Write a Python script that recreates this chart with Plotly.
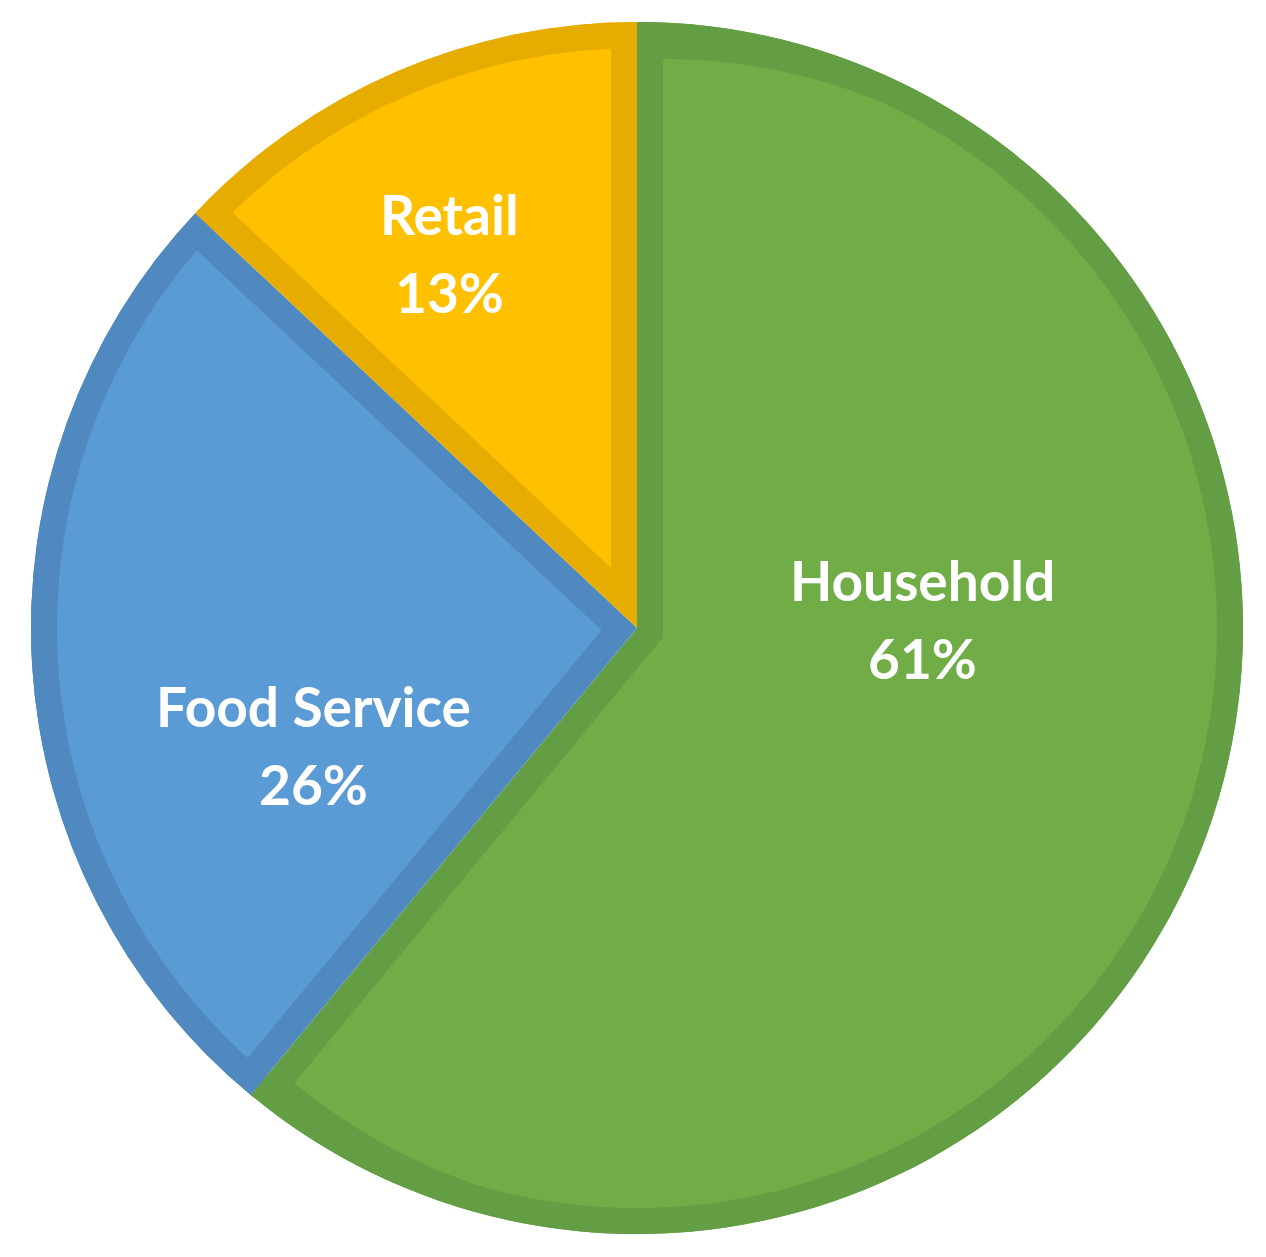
import math
import plotly.graph_objects as go

# ---- data ----
categories = ["Household", "Food Service", "Retail"]
shares = [61, 26, 13]

# ---- styles ----
fill_colors = ["#70AD47", "#5B9BD5", "#FFC000"]
edge_colors = ["#649E44", "#5089C0", "#E6AD00"]
TRANSPARENT = "rgba(0,0,0,0)"

W, H = 1266, 1257
CX, CY, R = 637, 628, 606      # pie centre / radius in px
EDGE = 26                       # inner border thickness in px

# label placement (px, centre of name line / percent line)
label_x = [922, 313, 449]
name_y = [580, 706, 214]
pct_y = [658, 784, 292]
FONT = dict(family="Lato", size=55, color="white")

dom_x = [(CX - R) / W, (CX + R) / W]
dom_y = [(H - CY - R) / H, (H - CY + R) / H]

common = dict(
    labels=categories, values=shares, sort=False, direction="clockwise",
    rotation=0, domain=dict(x=dom_x, y=dom_y), hoverinfo="skip",
    showlegend=False, textinfo="none",
)

fig = go.Figure()

# layer 1: full wedges in edge colour
fig.add_trace(go.Pie(**common, marker=dict(colors=edge_colors, line=dict(width=0))))

# layer 2: inset wedges in fill colour (one trace per slice, offset inward)
total = sum(shares)
for k in range(len(categories)):
    theta = 2 * math.pi * shares[k] / total
    p = EDGE / math.sin(theta / 2)
    pull_k = p / (R - p)
    cols = [TRANSPARENT] * len(categories)
    cols[k] = fill_colors[k]
    pulls = [0] * len(categories)
    pulls[k] = pull_k
    fig.add_trace(go.Pie(**common, pull=pulls,
                         marker=dict(colors=cols, line=dict(width=0))))

# layer 3: outer ring in edge colour
fig.add_trace(go.Pie(**common, hole=(R - EDGE) / R,
                     marker=dict(colors=edge_colors, line=dict(width=0))))

# labels
annotations = []
for k, name in enumerate(categories):
    pct = f"{round(100 * shares[k] / total)}%"
    for txt, yy in ((name, name_y[k]), (pct, pct_y[k])):
        annotations.append(dict(
            text=f"<b>{txt}</b>", x=label_x[k] / W, y=1 - yy / H,
            xref="paper", yref="paper", xanchor="center", yanchor="middle",
            showarrow=False, font=FONT,
        ))

fig.update_layout(
    width=W, height=H, margin=dict(l=0, r=0, t=0, b=0),
    paper_bgcolor="white", plot_bgcolor="white",
    annotations=annotations,
)

fig.write_html("out.html", config={"displayModeBar": False},
               post_script="document.body.style.margin='0';")
